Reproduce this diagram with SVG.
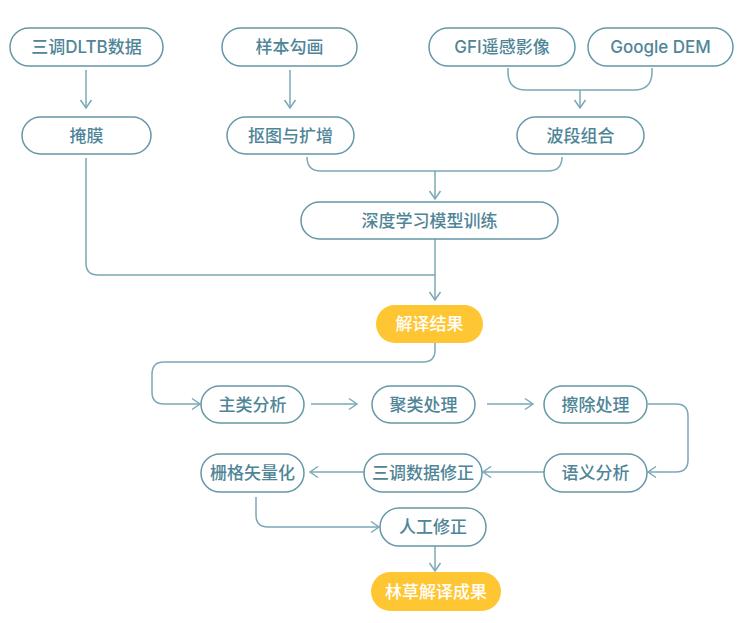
<svg xmlns="http://www.w3.org/2000/svg" width="750" height="623" viewBox="0 0 750 623">
<defs>
<style>
.n rect{fill:#fff;stroke:#6497a7;stroke-width:1.5}
.n text{fill:#4f8597;font-family:Inter,"Noto Sans CJK SC",sans-serif;font-size:17px;font-weight:500;text-anchor:middle;dominant-baseline:central}
.y rect{fill:#ffc634;stroke:none}
.y text{fill:#fff;font-family:Inter,"Noto Sans CJK SC",sans-serif;font-size:17px;font-weight:500;text-anchor:middle;dominant-baseline:central}
.c path{fill:none;stroke:#7aa8b6;stroke-width:1.5}
</style>
<marker id="a" markerUnits="userSpaceOnUse" markerWidth="14" markerHeight="14" refX="10" refY="7" orient="auto" viewBox="0 0 14 14">
<path d="M2,1.5 L10,7 L2,12.5" fill="none" stroke="#7aa8b6" stroke-width="1.5"/>
</marker>
</defs>
<rect width="750" height="623" fill="#fff"/>
<g class="c">
<path d="M86,70 V108" marker-end="url(#a)"/>
<path d="M290,70 V108" marker-end="url(#a)"/>
<path d="M508,68 V72 Q508,90 526,90 H634 Q652,90 652,72 V68"/>
<path d="M580,90 V108" marker-end="url(#a)"/>
<path d="M307,157 Q307,171 321,171 H548 Q562,171 562,157"/>
<path d="M435,171 V199" marker-end="url(#a)"/>
<path d="M435,239 V300" marker-end="url(#a)"/>
<path d="M86,158 V263 Q86,275 98,275 H435"/>
<path d="M435,343 V350 Q435,362 423,362 H164 Q152,362 152,374 V392 Q152,404 164,404 H200" marker-end="url(#a)"/>
<path d="M311,404 H357" marker-end="url(#a)"/>
<path d="M487,404 H533" marker-end="url(#a)"/>
<path d="M648,404 H676 Q688,404 688,416 V460 Q688,472 676,472 H648" marker-end="url(#a)"/>
<path d="M544,472 H483" marker-end="url(#a)"/>
<path d="M364,472 H310" marker-end="url(#a)"/>
<path d="M256,497 V515 Q256,527 268,527 H379" marker-end="url(#a)"/>
<path d="M435,546 V571" marker-end="url(#a)"/>
</g>
<g id="n1" class="n"><rect x="10" y="28" width="153" height="38" rx="19"/><text x="86.5" y="47">三调DLTB数据</text></g>
<g id="n2" class="n"><rect x="222" y="28" width="135" height="38" rx="19"/><text x="289.5" y="47">样本勾画</text></g>
<g id="n3" class="n"><rect x="429" y="28" width="146" height="38" rx="19"/><text x="502" y="47">GFI遥感影像</text></g>
<g id="n4" class="n"><rect x="588" y="28" width="145" height="38" rx="19"/><text x="660.5" y="47">Google DEM</text></g>
<g id="n5" class="n"><rect x="22" y="117" width="129" height="37" rx="18.5"/><text x="86.5" y="135.5">掩膜</text></g>
<g id="n6" class="n"><rect x="227" y="117" width="127" height="37" rx="18.5"/><text x="290.5" y="135.5">抠图与扩增</text></g>
<g id="n7" class="n"><rect x="517" y="117" width="127" height="37" rx="18.5"/><text x="580.5" y="135.5">波段组合</text></g>
<g id="n8" class="n"><rect x="301" y="202" width="257" height="37" rx="18.5"/><text x="429.5" y="220.5">深度学习模型训练</text></g>
<g id="n9" class="y"><rect x="376" y="305" width="107" height="38" rx="19"/><text x="429.5" y="324">解译结果</text></g>
<g id="n10" class="n"><rect x="201" y="386" width="103" height="37" rx="18.5"/><text x="252.5" y="404.5">主类分析</text></g>
<g id="n11" class="n"><rect x="372" y="386" width="103" height="37" rx="18.5"/><text x="423.5" y="404.5">聚类处理</text></g>
<g id="n12" class="n"><rect x="544" y="386" width="103" height="37" rx="18.5"/><text x="595.5" y="404.5">擦除处理</text></g>
<g id="n13" class="n"><rect x="544" y="454" width="103" height="38" rx="19"/><text x="595.5" y="473">语义分析</text></g>
<g id="n14" class="n"><rect x="364" y="454" width="118" height="38" rx="19"/><text x="423" y="473">三调数据修正</text></g>
<g id="n15" class="n"><rect x="201" y="454" width="103" height="38" rx="19"/><text x="252.5" y="473">栅格矢量化</text></g>
<g id="n16" class="n"><rect x="380" y="508" width="106" height="38" rx="19"/><text x="433" y="527">人工修正</text></g>
<g id="n17" class="y"><rect x="371" y="572" width="130" height="39" rx="19.5"/><text x="436" y="591.5">林草解译成果</text></g>
</svg>
